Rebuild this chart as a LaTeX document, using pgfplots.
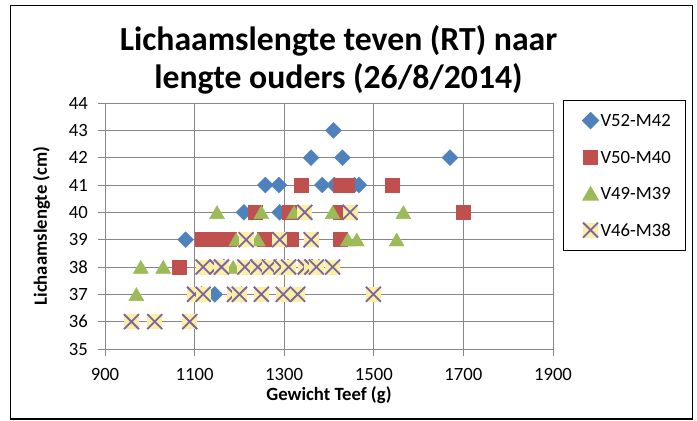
\documentclass[border=0pt]{standalone}
\usepackage{pgfplots}
\pgfplotsset{compat=1.18}
\usepackage{fontspec}
\setmainfont{Carlito}
\definecolor{cblue}{HTML}{4F81BD}
\definecolor{cred}{HTML}{C0504D}
\definecolor{cgreen}{HTML}{9BBB59}
\definecolor{xyellow}{HTML}{F9F0A3}
\definecolor{xpurple}{HTML}{8064A2}
\definecolor{gcol}{HTML}{878787}
\pgfdeclareplotmark{xbox}{%
  \pgfpathrectangle{\pgfqpoint{-\pgfplotmarksize}{-\pgfplotmarksize}}{\pgfqpoint{2\pgfplotmarksize}{2\pgfplotmarksize}}%
  \pgfsetfillcolor{xyellow}%
  \pgfusepathqfill
  \pgfpathmoveto{\pgfqpoint{-\pgfplotmarksize}{-\pgfplotmarksize}}%
  \pgfpathlineto{\pgfqpoint{\pgfplotmarksize}{\pgfplotmarksize}}%
  \pgfpathmoveto{\pgfqpoint{-\pgfplotmarksize}{\pgfplotmarksize}}%
  \pgfpathlineto{\pgfqpoint{\pgfplotmarksize}{-\pgfplotmarksize}}%
  \pgfsetstrokecolor{xpurple}%
  \pgfusepathqstroke
}
\newcommand\titlefont{\fontsize{33.7bp}{38bp}\selectfont\bfseries}
\newcommand\lblfont{\fontsize{18.7bp}{22bp}\selectfont}
\begin{document}
\begin{tikzpicture}[x=1bp,y=1bp]
\useasboundingbox (0,0) rectangle (697,420);
\draw[line width=1.2bp] (10.7,1) rectangle (692.5,414.3);
\node[font=\titlefont, anchor=base, inner sep=0pt] at (338.5,370) {Lichaamslengte teven (RT) naar};
\node[font=\titlefont, anchor=base, inner sep=0pt] at (338.5,332) {lengte ouders (26/8/2014)};
\begin{axis}[
  at={(105bp,71bp)}, anchor=south west,
  width=448bp, height=246bp, scale only axis,
  xmin=900, xmax=1900, ymin=35, ymax=44,
  xtick={900,1100,1300,1500,1700,1900},
  ytick={35,36,37,38,39,40,41,42,43,44},
  grid=major,
  major grid style={gcol, line width=0.8bp},
  axis line style={gcol, line width=0.8bp},
  tick style={gcol, line width=0.8bp},
  tick align=outside, tick pos=left,
  major tick length=7bp,
  ticklabel style={font=\lblfont, text=black},
  /pgf/number format/assume math mode=true,
  /pgf/number format/1000 sep={},
  xticklabel style={inner sep=0pt, anchor=north, yshift=-12bp},
  yticklabel style={inner sep=0pt, anchor=east, xshift=-10bp},
  xlabel={Gewicht Teef (g)},
  ylabel={Lichaamslengte (cm)},
  xlabel style={font=\lblfont\bfseries, at={(axis description cs:0.5,-0.2073)}, anchor=base, inner sep=0pt},
  ylabel style={font=\lblfont\bfseries, at={(axis description cs:-0.1295,0.5)}, anchor=base, inner sep=0pt},
  legend style={at={(1.0223,1.0122)}, anchor=north west, draw=black, line width=1.2bp,
    font=\lblfont, inner xsep=15bp, inner ysep=14bp, row sep=24.5bp, column sep=4bp,
    nodes={inner sep=0pt, text height=12bp, text depth=0bp}},
  legend image code/.code={\path[draw=none, fill=none] (-12bp,-6bp) rectangle (6bp,6bp);
    \begin{pgfinterruptboundingbox}\draw[#1] plot coordinates {(0bp,0bp)};\end{pgfinterruptboundingbox}},
  legend cell align=left,
  clip=false,
]
\addplot[only marks, mark=square*, mark size=5.6bp, color=cblue, mark options={rotate=45}] coordinates {
(1080,39) (1145,37) (1210,40) (1290,40) (1258,41) (1288,41) (1385,41) (1412,41)
(1457,41) (1467,41) (1360,42) (1430,42) (1670,42) (1410,43)
};
\addlegendentry{V52-M42}
\addplot[only marks, mark=square*, mark size=7bp, color=cred] coordinates {
(1065,38) (1117,39) (1145,39) (1178,39) (1256,39) (1316,39) (1425,39) (1236,40)
(1312,40) (1425,40) (1339,41) (1425,41) (1440,41) (1540,41) (1700,40)
};
\addlegendentry{V50-M40}
\addplot[only marks, mark=triangle*, mark size=8.7bp, color=cgreen, mark options={yshift=-2bp}] coordinates {
(970,37) (980,38) (1030,38) (1150,40) (1186,38) (1193,39) (1241,39) (1249,40)
(1322,40) (1408,40) (1566,40) (1442,39) (1462,39) (1551,39)
};
\addlegendentry{V49-M39}
\addplot[only marks, mark=xbox, mark size=7.5bp, line width=1.8bp, color=xpurple] coordinates {
(959,36) (1011,36) (1089,36)
(1100,37) (1119,37) (1189,37) (1200,37) (1249,37) (1298,37) (1330,37) (1499,37)
(1119,38) (1150,38) (1160,38) (1212,38) (1241,38) (1267,38) (1293,38) (1310,38)
(1347,38) (1362,38) (1372,38) (1408,38)
(1215,39) (1290,39) (1360,39)
(1346,40) (1447,40)
};
\addlegendentry{V46-M38}
\end{axis}
\end{tikzpicture}
\end{document}
